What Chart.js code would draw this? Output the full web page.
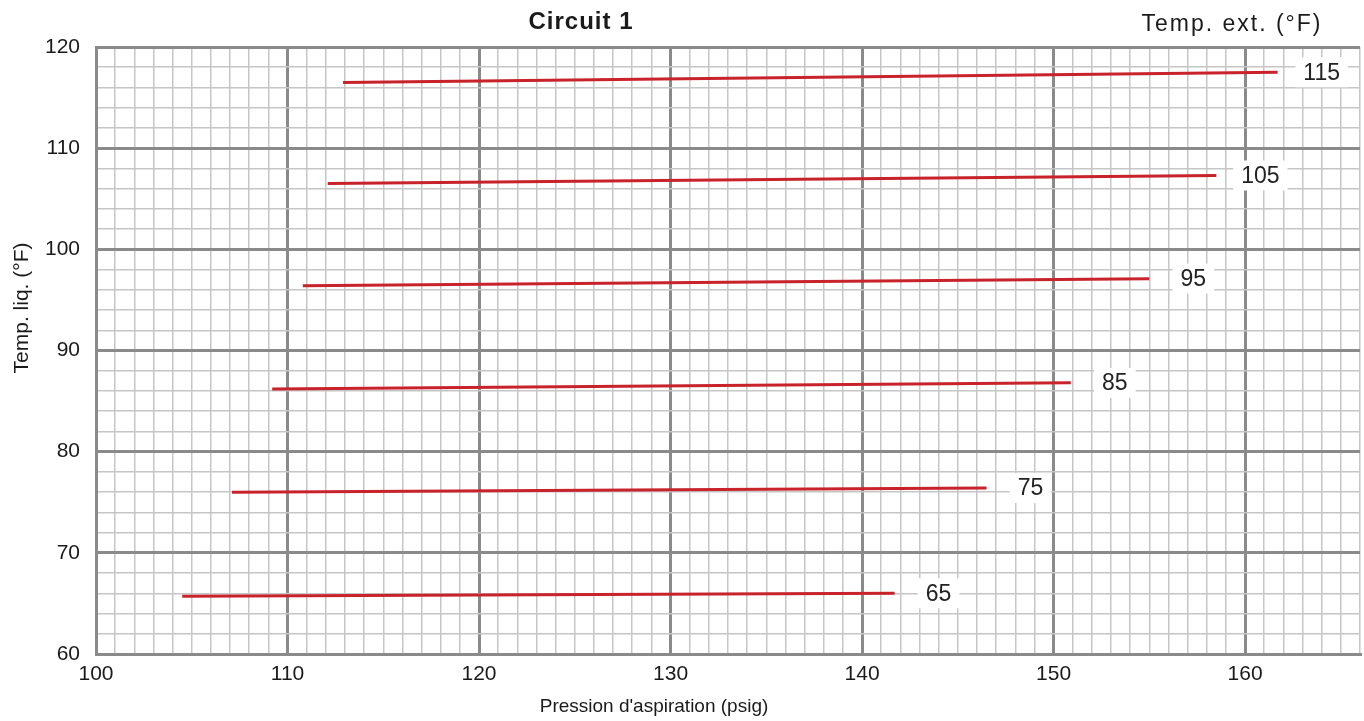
<!DOCTYPE html>
<html>
<head>
<meta charset="utf-8">
<title>Circuit 1</title>
<script src="https://cdn.jsdelivr.net/npm/chart.js@4/dist/chart.umd.min.js"></script>
<style>
  html, body { margin: 0; padding: 0; background: #fff; }
  #wrap { width: 1364px; height: 721px; position: relative; }
</style>
</head>
<body>
<div id="wrap"><canvas id="chart"></canvas></div>
<script>
// outdoor temperature curves (°F) : suction pressure (psig) vs liquid temp (°F)
const tempExt = [115, 105, 95, 85, 75, 65];
const pStart  = [112.9, 112.1, 110.8, 109.2, 107.1, 104.5];
const pEnd    = [161.7, 158.5, 155.0, 150.9, 146.5, 141.7];
const tStart  = [116.5, 106.5, 96.4, 86.2, 76.0, 65.7];
const tEnd    = [117.5, 107.3, 97.1, 86.8, 76.4, 66.0];

const xMin = 100, xMax = 166;
const yMin = 60, yMax = 120;

const FONT = '"Liberation Sans", Arial, sans-serif';
const MAJOR = '#8a8a8a';
const MINOR = '#c6c6c6';
const RED = '#c8222b';

const datasets = tempExt.map((t, i) => ({
  label: String(t),
  data: [{ x: pStart[i], y: tStart[i] }, { x: pEnd[i], y: tEnd[i] }],
  showLine: true,
  borderColor: RED,
  borderWidth: 3,
  pointRadius: 0,
  fill: false
}));

// white-boxed labels at the end of each curve
const curveLabels = {
  id: 'curveLabels',
  afterDatasetsDraw(chart) {
    const ctx = chart.ctx;
    ctx.save();
    ctx.font = '23px ' + FONT;
    ctx.textAlign = 'center';
    ctx.textBaseline = 'middle';
    chart.data.datasets.forEach((ds, i) => {
      const meta = chart.getDatasetMeta(i);
      const last = meta.data[meta.data.length - 1];
      const cx = last.x + 44;
      const cy = last.y;
      const w = ctx.measureText(ds.label).width + 16;
      ctx.fillStyle = '#fff';
      ctx.fillRect(cx - w / 2, cy - 15, w, 30);
      ctx.fillStyle = '#222';
      ctx.fillText(ds.label, cx, cy + 1);
    });
    ctx.restore();
  }
};

// titles drawn by hand to sit where the original has them
const titles = {
  id: 'titles',
  afterDraw(chart) {
    const ctx = chart.ctx;
    ctx.save();
    ctx.fillStyle = '#1a1a1a';
    ctx.textAlign = 'center';
    ctx.textBaseline = 'middle';

    ctx.font = 'bold 24px ' + FONT;
    ctx.letterSpacing = '1px';
    ctx.fillText('Circuit 1', 581, 22);

    ctx.font = '23px ' + FONT;
    ctx.letterSpacing = '2px';
    ctx.fillText('Temp. ext. (°F)', 1232, 25);

    ctx.letterSpacing = '0px';
    ctx.font = '19px ' + FONT;
    ctx.fillText("Pression d'aspiration (psig)", 654, 707);

    ctx.translate(22, 308);
    ctx.rotate(-Math.PI / 2);
    ctx.font = '21px ' + FONT;
    ctx.fillText('Temp. liq. (°F)', 0, 0);
    ctx.restore();
  }
};

const isMajor = v => Math.round(v) % 10 === 0;

new Chart(document.getElementById('chart'), {
  type: 'scatter',
  data: { datasets },
  options: {
    responsive: true,
    maintainAspectRatio: false,
    animation: false,
    layout: { padding: { top: 47, right: 4, left: 0, bottom: 0 } },
    plugins: {
      legend: { display: false },
      title: { display: false },
      tooltip: { enabled: false }
    },
    scales: {
      x: {
        type: 'linear',
        min: xMin,
        max: xMax,
        afterFit: s => { s.height = 67; s.paddingRight = 0; s.paddingLeft = 0; },
        ticks: {
          stepSize: 1,
          autoSkip: false,
          maxRotation: 0,
          padding: 8,
          color: '#1a1a1a',
          font: { family: FONT, size: 21 },
          callback: v => isMajor(v) ? String(v) : ''
        },
        grid: {
          drawTicks: false,
          color: c => isMajor(c.tick.value) ? MAJOR : MINOR,
          lineWidth: c => isMajor(c.tick.value) ? 3 : 1.5
        },
        border: { color: MAJOR, width: 3 }
      },
      y: {
        type: 'linear',
        min: yMin,
        max: yMax,
        afterFit: s => { s.width = 96; },
        ticks: {
          stepSize: 2,
          autoSkip: false,
          padding: 16,
          color: '#1a1a1a',
          font: { family: FONT, size: 21 },
          callback: v => isMajor(v) ? String(v) : ''
        },
        grid: {
          drawTicks: false,
          color: c => isMajor(c.tick.value) ? MAJOR : MINOR,
          lineWidth: c => isMajor(c.tick.value) ? 3 : 1.5
        },
        border: { color: MAJOR, width: 3 }
      }
    }
  },
  plugins: [curveLabels, titles]
});
</script>
</body>
</html>
